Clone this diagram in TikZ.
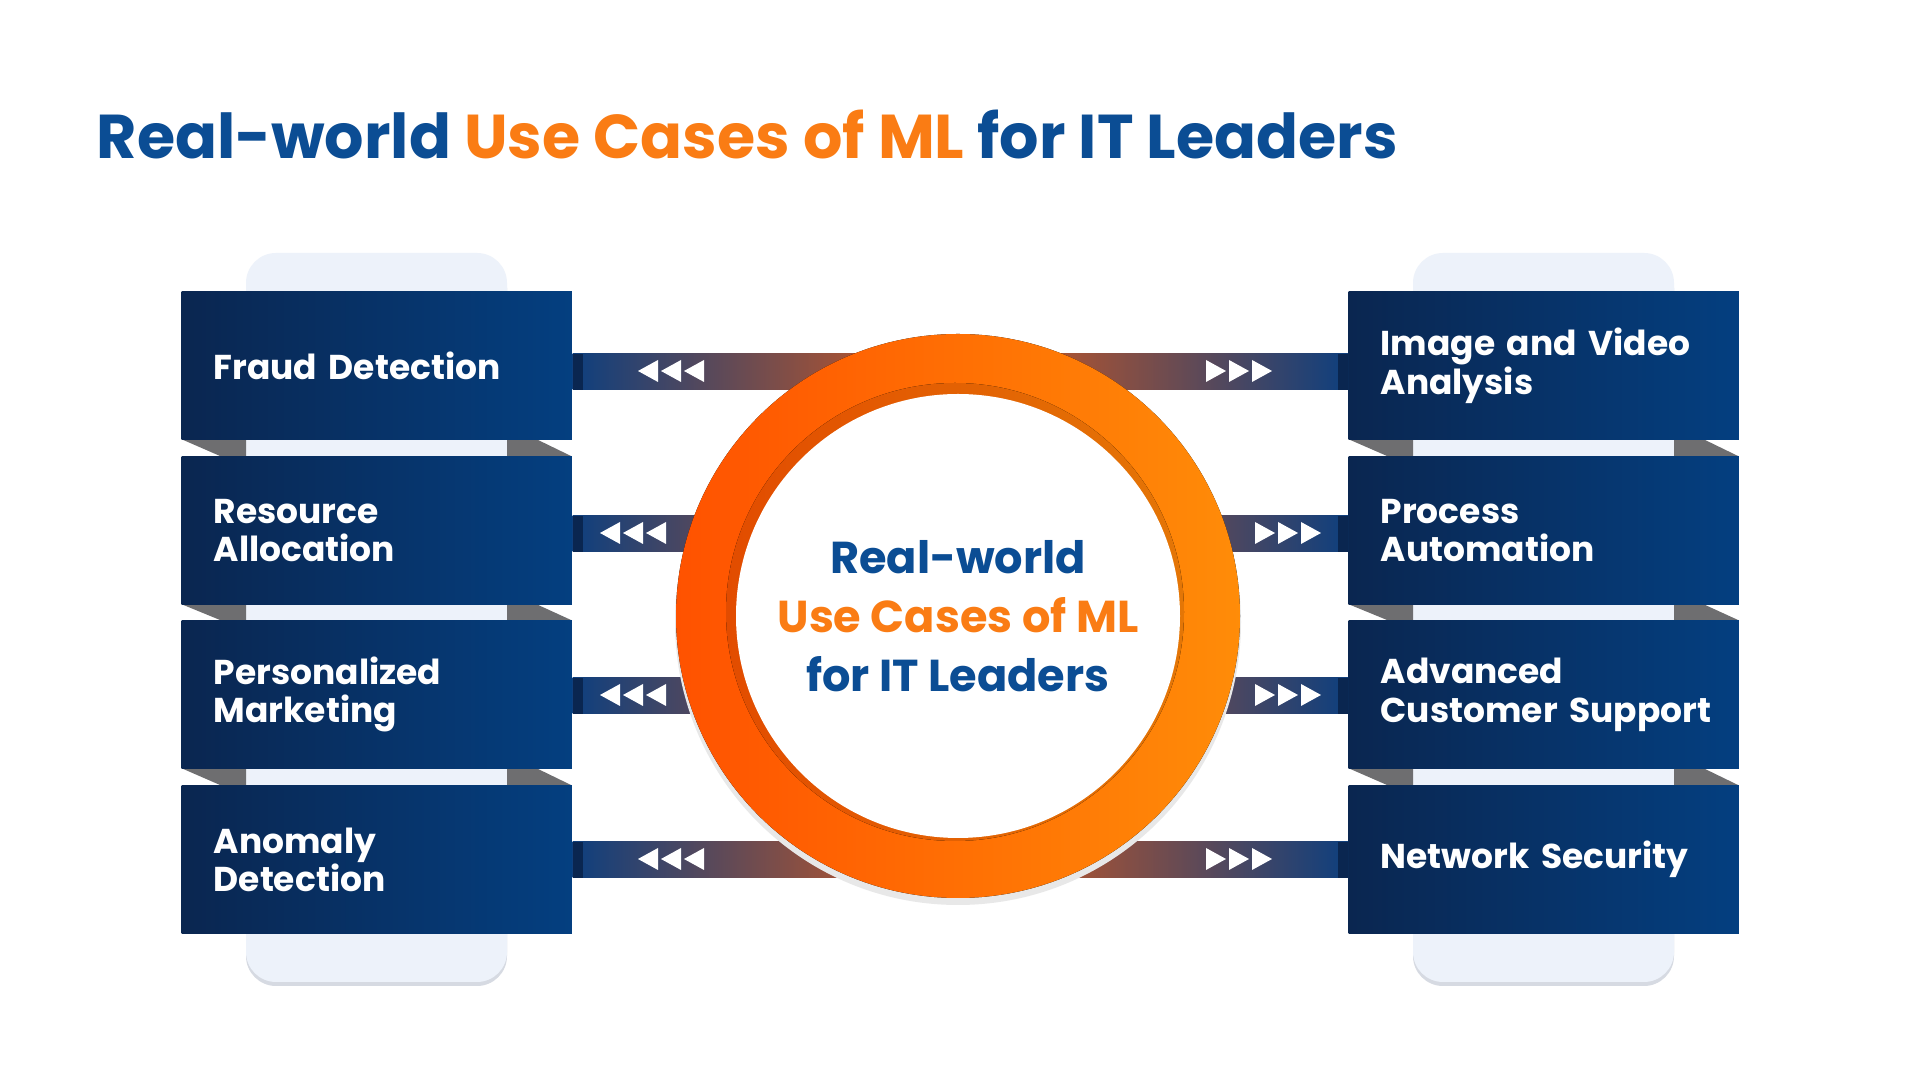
\documentclass[tikz,border=0pt]{standalone}
\usepackage{fontspec}
\setmainfont{Poppins}
\usetikzlibrary{calc}

\definecolor{titleblue}{RGB}{11,77,148}
\definecolor{titleorange}{RGB}{250,124,20}
\definecolor{boxdark}{RGB}{10,38,80}
\definecolor{boxlight}{RGB}{4,63,128}
\definecolor{panelblue}{RGB}{237,242,250}
\definecolor{panelshadow}{RGB}{214,218,226}
\definecolor{foldgray}{RGB}{110,110,112}
\definecolor{barblue}{RGB}{14,63,126}
\definecolor{barorange}{RGB}{222,90,26}
\definecolor{ringred}{RGB}{255,82,0}
\definecolor{ringamber}{RGB}{255,140,8}
\definecolor{rimred}{RGB}{226,76,0}
\definecolor{rimamber}{RGB}{228,118,6}

\tikzset{
    casebox/.style={left color=boxdark, right color=boxlight, anchor=north west,
        minimum width=3.9cm, minimum height=1.48cm, text width=3.26cm,
        inner xsep=0.32cm, align=left, text=white,
        font=\bfseries\fontsize{9.8}{10.9}\selectfont},
    panel/.style={fill=panelblue, rounded corners=0.3cm},
    fold/.style={fill=foldgray},
    arrowtri/.style={fill=white},
}

\begin{document}
\begin{tikzpicture}[x=0.01cm, y=-0.01cm]
    \useasboundingbox[fill=white] (0,0) rectangle (1920,1080);

    \node[anchor=west, inner sep=0, font=\bfseries\fontsize{17.6}{20}\selectfont] (title) at (96,135)
        {\color{titleblue}Real-world \color{titleorange}Use Cases of ML \color{titleblue}for IT Leaders};

    % pale panels behind the boxes
    \foreach \px in {246, 1413} {
        \fill[panelshadow, rounded corners=0.3cm] (\px,258) rectangle (\px+261,986);
        \fill[panel] (\px,253) rectangle (\px+261,982);
    }

    % folds between the boxes
    \foreach \bx in {181, 1348} {
        \foreach \b/\t in {439/456, 604/620, 768/785} {
            \fill[fold] (\bx,\b) -- (\bx+65,\b) -- (\bx+65,\t) -- (\bx+39,\t) -- cycle;
            \fill[fold] (\bx+326,\b) -- (\bx+355,\b) -- (\bx+390,\t) -- (\bx+326,\t) -- cycle;
        }
    }

    \node[casebox] (fd) at (181,291) {Fraud Detection};
    \node[casebox] (ra) at (181,456) {Resource\\Allocation};
    \node[casebox] (pm) at (181,620) {Personalized\\Marketing};
    \node[casebox] (ad) at (181,785) {Anomaly\\Detection};

    \node[casebox] (iv) at (1348,291) {Image and Video\\Analysis};
    \node[casebox] (pa) at (1348,456) {Process\\Automation};
    \node[casebox] (cs) at (1348,620) {Advanced\\\mbox{Customer Support}};
    \node[casebox] (ns) at (1348,785) {Network Security};

    \coordinate (mid) at (958,616);

    % bars from the boxes to the ring
    \foreach \n/\dy in {fd/6, ra/3, pm/1, ad/0} {
        \fill[left color=barblue, right color=barorange]
            ($(\n.east)+(0,\dy-18)$) rectangle ($(mid |- \n.east)+(0,\dy+18)$);
        \fill[boxdark] ($(\n.east)+(0,\dy-18)$) rectangle ($(\n.east)+(10,\dy+18)$);
    }
    \foreach \n/\dy in {iv/6, pa/3, cs/1, ns/0} {
        \fill[left color=barorange, right color=barblue]
            ($(mid |- \n.west)+(0,\dy-18)$) rectangle ($(\n.west)+(0,\dy+18)$);
        \fill[boxdark] ($(\n.west)+(-10,\dy-18)$) rectangle ($(\n.west)+(0,\dy+18)$);
    }

    % arrow heads on the bars
    \foreach \tx/\ty in {638/371, 600/533, 600/695, 638/859}
        \foreach \k in {0,1,2}
            \fill[arrowtri] (\tx+23*\k,\ty) -- (\tx+23*\k+20,\ty-11) -- (\tx+23*\k+20,\ty+11) -- cycle;
    \foreach \tx/\ty in {1206/371, 1255/533, 1255/695, 1206/859}
        \foreach \k in {0,1,2}
            \fill[arrowtri] (\tx+23*\k+20,\ty) -- (\tx+23*\k,\ty-11) -- (\tx+23*\k,\ty+11) -- cycle;

    % ring
    \fill[gray!18] ($(mid)+(0,6)$) circle[radius=283];
    \fill[left color=ringred, right color=ringamber] (mid) circle[radius=282];
    \fill[left color=rimred, right color=rimamber] ($(mid)+(-3,-4)$) circle[radius=229];
    \fill[white] (mid) circle[radius=222];

    \node[align=center, font=\bfseries\fontsize{12.7}{16.8}\selectfont] (hub) at (mid)
        {\color{titleblue}Real-world\\\color{titleorange}Use Cases of ML\\\color{titleblue}for IT Leaders};
\end{tikzpicture}
\end{document}
